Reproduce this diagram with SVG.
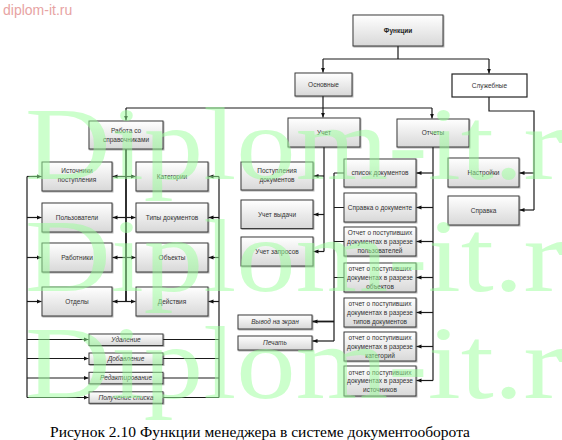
<svg xmlns="http://www.w3.org/2000/svg" width="562" height="440" viewBox="0 0 562 440">
<defs>
<linearGradient id="g" x1="0" y1="0" x2="0" y2="1">
<stop offset="0" stop-color="#ffffff"/>
<stop offset="1" stop-color="#d8d8d8"/>
</linearGradient>
<filter id="sh" x="-10%" y="-10%" width="130%" height="140%">
<feDropShadow dx="0.8" dy="0.9" stdDeviation="0.4" flood-color="#000" flood-opacity="0.35"/>
</filter>
<marker id="a" markerWidth="6" markerHeight="6" refX="5" refY="3" orient="auto" markerUnits="userSpaceOnUse">
<path d="M0,0.9 L5,3 L0,5.1 z" fill="#111"/>
</marker>
<style>
.b{fill:url(#g);stroke:#3a3a3a;stroke-width:1;filter:url(#sh)}
.w{fill:#fff;stroke:#222;stroke-width:1.2}
.t{font-family:"Liberation Sans",Arial,sans-serif;font-size:6.5px;fill:#333;text-anchor:middle}
.i{font-style:italic}
.c{fill:none;stroke:#1a1a1a;stroke-width:1.2}
.ar{marker-end:url(#a)}
.wm{font-family:"Liberation Serif","Times New Roman",serif;font-size:104px;fill:#99ff99;fill-opacity:0.5}
</style>
</defs>
<rect width="562" height="440" fill="#fff"/>

<g id="connectors">
<path class="c" d="M398,46 V59 M323,59 H489"/>
<path class="c ar" d="M323,59 V72.5"/>
<path class="c ar" d="M489,59 V73.5"/>
<path class="c ar" d="M323,96 V117.5"/>
<path class="c" d="M126,108 H432"/>
<path class="c ar" d="M126,108 V120.5"/>
<path class="c ar" d="M432,108 V118.5"/>
<path class="c" d="M489,97 V111 H534 V210"/>
<path class="c ar" d="M534,173 H519.5"/>
<path class="c ar" d="M534,210 H519.5"/>
<path class="c" style="stroke-width:1.8" d="M126,149 V301.5"/>
<path class="c ar" d="M126,176.5 H112.5"/>
<path class="c ar" d="M126,176.5 H135.5"/>
<path class="c ar" d="M126,217.5 H112.5"/>
<path class="c ar" d="M126,217.5 H135.5"/>
<path class="c ar" d="M126,257.5 H112.5"/>
<path class="c ar" d="M126,257.5 H135.5"/>
<path class="c ar" d="M126,301.5 H112.5"/>
<path class="c ar" d="M126,301.5 H135.5"/>
<path class="c" d="M27,176.5 V397.5"/>
<path class="c ar" d="M27,176.5 H41.5"/>
<path class="c ar" d="M27,217.5 H41.5"/>
<path class="c ar" d="M27,257.5 H41.5"/>
<path class="c ar" d="M27,301.5 H41.5"/>
<path class="c ar" d="M27,339.5 H88.5"/>
<path class="c ar" d="M27,358.5 H88.5"/>
<path class="c ar" d="M27,378 H88.5"/>
<path class="c ar" d="M27,397.5 H88.5"/>
<path class="c" d="M219,176.5 V397.5"/>
<path class="c ar" d="M219,176.5 H208.5"/>
<path class="c ar" d="M219,217.5 H208.5"/>
<path class="c ar" d="M219,257.5 H208.5"/>
<path class="c ar" d="M219,301.5 H208.5"/>
<path class="c" d="M163,339.5 H219 M163,358.5 H219 M163,378 H219 M163,397.5 H219"/>
<path class="c" d="M324,147 V251.5"/>
<path class="c ar" d="M324,176 H313.5"/>
<path class="c ar" d="M324,214.5 H313.5"/>
<path class="c ar" d="M324,251.5 H313.5"/>
<path class="c" d="M433,147 V380.5"/>
<path class="c ar" d="M433,173 H416.5"/>
<path class="c ar" d="M433,207.5 H416.5"/>
<path class="c ar" d="M433,241.5 H416.5"/>
<path class="c ar" d="M433,277.5 H416.5"/>
<path class="c ar" d="M433,312.5 H416.5"/>
<path class="c ar" d="M433,346.5 H416.5"/>
<path class="c ar" d="M433,380.5 H416.5"/>
<path class="c" d="M334,173 V341 M334,173 H344 M334,207.5 H344 M334,241.5 H344 M334,277.5 H344"/>
<path class="c ar" style="stroke-width:1.8" d="M334,321.5 H312.5"/>
<path class="c ar" d="M334,341 H312.5"/>
</g>

<g id="n-funkcii"><rect class="b" x="353" y="15" width="90" height="31"/><text class="t" x="398" y="33" style="font-weight:bold;fill:#222">Функции</text></g>
<g id="n-osnovnye"><rect class="b" x="295" y="73" width="57" height="23"/><text class="t" x="323.5" y="86.8">Основные</text></g>
<g id="n-sluzhebnye"><rect class="w" x="452" y="74" width="75" height="23"/><text class="t" x="489.5" y="87.8">Служебные</text></g>

<g id="n-rabota"><rect class="b" x="89" y="121" width="74" height="28"/><text class="t" x="126" y="133.2">Работа со</text><text class="t" x="126" y="141.6">справочниками</text></g>
<g id="n-uchet"><rect class="b" x="288" y="118" width="72" height="29"/><text class="t" x="324" y="134.8">Учет</text></g>
<g id="n-otchety"><rect class="b" x="397" y="119" width="72" height="28"/><text class="t" x="433" y="135.3">Отчеты</text></g>

<g id="n-istochniki"><rect class="b" x="42" y="162" width="70" height="29"/><text class="t" x="77" y="173.3">Источники</text><text class="t" x="77" y="181.9">поступления</text></g>
<g id="n-polzovateli"><rect class="b" x="42" y="203" width="70" height="29"/><text class="t" x="77" y="219.8">Пользователи</text></g>
<g id="n-rabotniki"><rect class="b" x="42" y="243" width="70" height="29"/><text class="t" x="77" y="259.8">Работники</text></g>
<g id="n-otdely"><rect class="b" x="42" y="287" width="70" height="29"/><text class="t" x="77" y="303.8">Отделы</text></g>

<g id="n-kategorii"><rect class="b" x="136" y="162" width="72" height="29"/><text class="t" x="172" y="178.8">Категории</text></g>
<g id="n-tipy"><rect class="b" x="136" y="203" width="72" height="29"/><text class="t" x="172" y="219.8">Типы документов</text></g>
<g id="n-obekty"><rect class="b" x="136" y="243" width="72" height="29"/><text class="t" x="172" y="259.8">Объекты</text></g>
<g id="n-deystviya"><rect class="b" x="136" y="287" width="72" height="29"/><text class="t" x="172" y="303.8">Действия</text></g>

<g id="n-udalenie"><rect class="b" x="89" y="334" width="74" height="11.5"/><text class="t i" x="126" y="342">Удаление</text></g>
<g id="n-dobavlenie"><rect class="b" x="89" y="353" width="74" height="11.5"/><text class="t i" x="126" y="361">Добавление</text></g>
<g id="n-redaktirovanie"><rect class="b" x="89" y="372.3" width="74" height="11.5"/><text class="t i" x="126" y="380.3">Редактирование</text></g>
<g id="n-poluchenie"><rect class="b" x="89" y="391.8" width="74" height="11.5"/><text class="t i" x="126" y="399.8">Получение списка</text></g>

<g id="n-postupleniya"><rect class="b" x="241" y="162" width="72" height="28"/><text class="t" x="277" y="173">Поступления</text><text class="t" x="277" y="181.6">документов</text></g>
<g id="n-vydachi"><rect class="b" x="241" y="200" width="72" height="28.5"/><text class="t" x="277" y="216.6">Учет выдачи</text></g>
<g id="n-zaprosov"><rect class="b" x="241" y="237" width="72" height="29"/><text class="t" x="277" y="253.8">Учет запросов</text></g>

<g id="n-vyvod"><rect class="b" x="238" y="315" width="74" height="14"/><text class="t i" x="275" y="324.3">Вывод на экран</text></g>
<g id="n-pechat"><rect class="b" x="238" y="336" width="74" height="14"/><text class="t i" x="275" y="345.3">Печать</text></g>

<g id="n-spisok"><rect class="b" x="344" y="159" width="72" height="28"/><text class="t" x="380" y="175.3">список документов</text></g>
<g id="n-spravka-doc"><rect class="b" x="344" y="193" width="72" height="29"/><text class="t" x="380" y="209.8">Справка о документе</text></g>
<g id="n-r-polz"><rect class="b" x="344" y="227" width="72" height="29"/><text class="t" x="380" y="235">Отчет о поступивших</text><text class="t" x="380" y="243.8">документах в разрезе</text><text class="t" x="380" y="252.6">пользователей</text></g>
<g id="n-r-obekt"><rect class="b" x="344" y="263" width="72" height="29"/><text class="t" x="380" y="271">отчет о поступивших</text><text class="t" x="380" y="279.8">документах в разрезе</text><text class="t" x="380" y="288.6">объектов</text></g>
<g id="n-r-tipy"><rect class="b" x="344" y="298" width="72" height="29"/><text class="t" x="380" y="306">отчет о поступивших</text><text class="t" x="380" y="314.8">документах в разрезе</text><text class="t" x="380" y="323.6">типов документов</text></g>
<g id="n-r-kat"><rect class="b" x="344" y="332" width="72" height="29"/><text class="t" x="380" y="340">отчет о поступивших</text><text class="t" x="380" y="348.8">документах в разрезе</text><text class="t" x="380" y="357.6">категорий</text></g>
<g id="n-r-ist"><rect class="b" x="344" y="366" width="72" height="30"/><text class="t" x="380" y="374.5">отчет о поступивших</text><text class="t" x="380" y="383.3">документах в разрезе</text><text class="t" x="380" y="392.1">источников</text></g>

<g id="n-nastroyki"><rect class="b" x="448" y="158" width="71" height="29"/><text class="t" x="483.5" y="174.8">Настройки</text></g>
<g id="n-spravka"><rect class="b" x="448" y="196" width="71" height="29"/><text class="t" x="483.5" y="212.8">Справка</text></g>

<g id="watermark">
<text class="wm" x="25" y="179" textLength="538" lengthAdjust="spacingAndGlyphs">Diplom-it.r</text>
<text class="wm" x="25" y="291" textLength="538" lengthAdjust="spacingAndGlyphs">Diplom-it.r</text>
<text class="wm" x="25" y="398" textLength="538" lengthAdjust="spacingAndGlyphs">Diplom-it.r</text>
</g>
<text x="3" y="15" style="font-family:'Liberation Sans',Arial,sans-serif;font-size:14px;fill:#e7a3a3">diplom-it.ru</text>
<text x="50" y="436.5" textLength="420" lengthAdjust="spacingAndGlyphs" style="font-family:'Liberation Serif','Times New Roman',serif;font-size:14.3px;fill:#000">Рисунок 2.10 Функции менеджера в системе документооборота</text>
</svg>
